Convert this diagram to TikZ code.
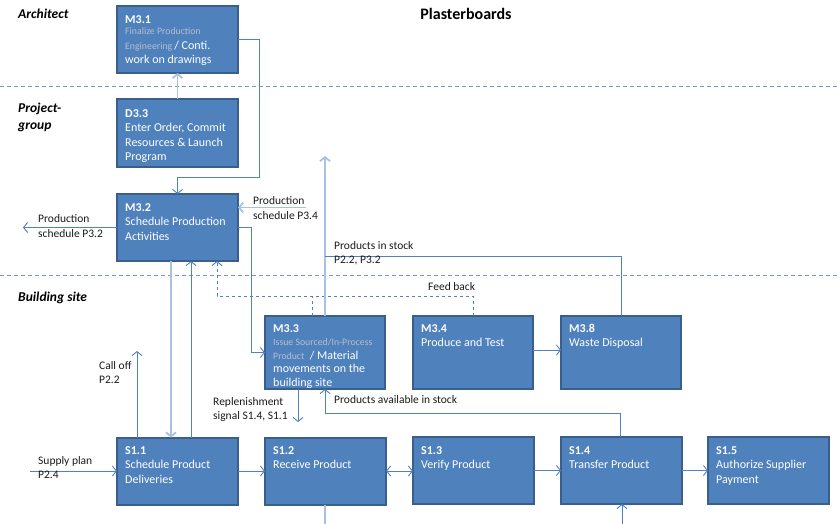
\documentclass[tikz,border=0pt]{standalone}
\usepackage{fontspec}
\setmainfont{Carlito}
\usetikzlibrary{arrows.meta}
\definecolor{boxfill}{HTML}{4F81BD}
\definecolor{boxline}{HTML}{3A5F8C}
\definecolor{conn}{HTML}{4F82C0}
\definecolor{connlt}{HTML}{A9C1E2}
\definecolor{greytxt}{HTML}{B7BEC9}
\definecolor{lane}{HTML}{6F97CC}
\definecolor{lbltxt}{HTML}{1A1A1A}
\newcommand\gtxt[1]{{\fontsize{9.8}{11}\selectfont\color{greytxt}#1}}
\begin{document}
\begin{tikzpicture}[x=1pt,y=-1pt,
  box/.style={draw=boxline, fill=boxfill, line width=2pt, minimum width=121pt, minimum height=67pt, inner sep=0pt, outer sep=0pt},
  tallbox/.style={box, minimum width=120pt, minimum height=73pt},
  btext/.style={anchor=north west, inner sep=0pt, text=white, align=left, font=\fontsize{12}{14.5}\selectfont},
  lbl/.style={anchor=north west, inner sep=0pt, align=left, text=lbltxt, font=\fontsize{11.5}{14.8}\selectfont},
  lanelbl/.style={anchor=base west, inner sep=0pt, align=left, font=\fontsize{13.5}{16}\selectfont\bfseries\itshape},
  tip/.tip={Straight Barb[length=4pt,width=10pt]},
  c/.style={draw=conn, line width=0.9pt, -tip},
  cl/.style={draw=connlt, line width=1.8pt, -tip},
  laneline/.style={draw=lane, dash pattern=on 4pt off 3pt, line width=1pt}
]
\useasboundingbox (0,0) rectangle (840,524);

% lane separators
\draw[laneline] (0,87) -- (840,87);
\draw[laneline] (0,275) -- (840,275);

% lane labels and title
\node[lanelbl] (lA) at (18,19) {Architect};
\node[lanelbl] (lP) at (18,113) {Project-};
\node[lanelbl] (lG) at (18,129) {group};
\node[lanelbl] (lB) at (18,301) {Building site};
\node[anchor=base, inner sep=0pt, font=\fontsize{16}{18}\selectfont\bfseries] (title) at (466,20) {Plasterboards};

% boxes
\node[box] (m31) at (177.5,39.5) {};
\node[box] (d33) at (177.5,133) {};
\node[box] (m32) at (177.5,227.5) {};
\node[tallbox] (m33) at (325,352.5) {};
\node[tallbox] (m34) at (473,352.5) {};
\node[tallbox] (m38) at (621,352.5) {};
\node[box] (s11) at (177.5,471) {};
\node[box] (s12) at (325.5,471) {};
\node[box] (s13) at (473.5,470.5) {};
\node[box] (s14) at (621.5,470.5) {};
\node[box] (s15) at (768.5,470.5) {};

% box texts
\node[btext] (t31) at (125,15) {\textbf{M3.1}\\[-3pt]\gtxt{Finalize Production}\\ \gtxt{Engineering}\,/ Conti.\\ work on drawings};
\node[btext] (t33d) at (125,109) {\textbf{D3.3}\\ Enter Order, Commit\\ Resources \& Launch\\ Program};
\node[btext] (t32) at (125,203) {\textbf{M3.2}\\ Schedule Production\\ Activities};
\node[btext, font=\fontsize{12}{13.6}\selectfont] (t33) at (273,324) {\textbf{M3.3}\\ \gtxt{Issue Sourced/In-Process}\\ \gtxt{Product}\ \ / Material\\ movements on the\\ building site};
\node[btext] (t34) at (421,324) {\textbf{M3.4}\\ Produce and Test};
\node[btext] (t38) at (569,324) {\textbf{M3.8}\\ Waste Disposal};
\node[btext] (t11) at (125,446) {\textbf{S1.1}\\ Schedule Product\\ Deliveries};
\node[btext] (t12) at (273,446) {\textbf{S1.2}\\ Receive Product};
\node[btext] (t13) at (421,446) {\textbf{S1.3}\\ Verify Product};
\node[btext] (t14) at (569,446) {\textbf{S1.4}\\ Transfer Product};
\node[btext] (t15) at (716,446) {\textbf{S1.5}\\ Authorize Supplier\\ Payment};

% free ends
\coordinate (p32) at (23,227.5);
\coordinate (p34) at (306,207.5);
\coordinate (calloff) at (137,351);
\coordinate (pis) at (325,156);
\coordinate (rep) at (298,422);
\coordinate (sp) at (30,471);
\coordinate (b1) at (325,524);
\coordinate (b2) at (622,524);

% connectors
\draw[cl] (d33) -- (m31);
\draw[c] (m31.east) -| (259,177) -| (m32.north);
\draw[c] (m32.west) -- (p32);
\draw[cl] (p34) -- (p34 -| m32.east);
\draw[c] (m32.east) -- (251,227.5) |- (m33.west);
\draw[c] (s11.north -| calloff) -- (calloff);
\draw[cl] (m32.south -| 171,0) -- (s11.north -| 171,0);
\draw[c] (s11.north -| 191,0) -- (m32.south -| 191,0);
\draw[c, dashed] (m34.north) |- (217,296) -- (m32.south -| 217,0);
\draw[draw=conn, line width=0.9pt, dashed] (m33.north -| 312,0) -- (312,296);
\draw[cl] (m33.north) -- (pis);
\draw[draw=conn, line width=0.9pt] (m38.north) |- (325,256);
\draw[c] (m34.east |- 0,350) -- (m38.west |- 0,350);
\draw[c] (m33.south -| rep) -- (rep);
\draw[c] (s14.north -| 620,0) |- (m33.south |- 0,413) -- (m33.south);
\draw[c] (sp) -- (s11.west);
\draw[c] (s11.east) -- (s12.west);
\draw[c, tip-tip] (s12.east) -- (s12.east -| s13.west);
\draw[c] (s13.east) -- (s14.west);
\draw[c] (s14.east) -- (s15.west);
\draw[cl, -] (s12.south -| b1) -- (b1);
\draw[c] (b2) -- (s14.south -| b2);

% connector labels
\node[lbl] (l32) at (38,214.5) {Production\\ schedule P3.2};
\node[lbl] (l34) at (253,196.5) {Production\\ schedule P3.4};
\node[lbl] (lpis) at (334,241) {Products in stock\\ P2.2, P3.2};
\node[lbl] (lfb) at (428,282) {Feed back};
\node[lbl] (lco) at (99,361) {Call off\\ P2.2};
\node[lbl] (lrep) at (213,397) {Replenishment\\ signal S1.4, S1.1};
\node[lbl] (lpas) at (334,395) {Products available in stock};
\node[lbl] (lsp) at (38,456) {Supply plan\\ P2.4};
\end{tikzpicture}
\end{document}
